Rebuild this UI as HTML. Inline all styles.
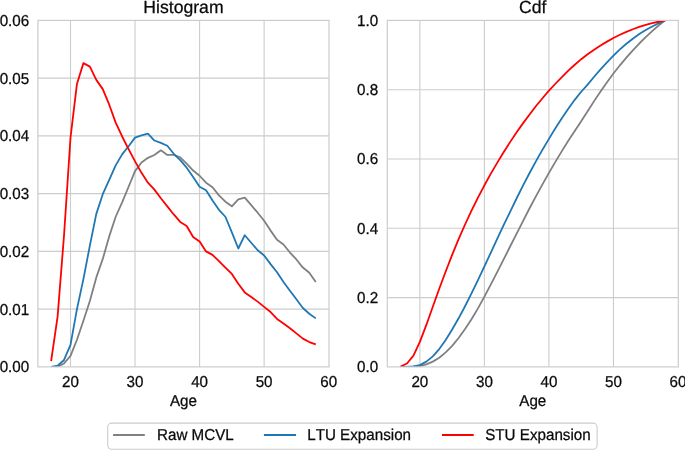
<!DOCTYPE html>
<html><head><meta charset="utf-8"><style>
html,body{margin:0;padding:0;background:#fff;width:685px;height:450px;overflow:hidden;}
body{position:relative;font-family:"Liberation Sans",sans-serif;}
svg text{font-kerning:none;text-rendering:geometricPrecision;}
svg{will-change:transform;}
</style></head><body>
<svg width="685" height="450" viewBox="0 0 685 450" style="position:absolute;left:0;top:0">
<rect width="685" height="450" fill="#fff"/>
<defs>
<clipPath id="c0"><rect x="37.9" y="20.4" width="291.1" height="346.5"/></clipPath>
<clipPath id="c1"><rect x="387.3" y="20.4" width="290.99999999999994" height="346.5"/></clipPath>
</defs>
<g font-family="Liberation Sans, sans-serif" fill="#0a0a0a" stroke="#0a0a0a" stroke-width="0.25">
<line x1="70.5" y1="20.4" x2="70.5" y2="366.9" stroke="#cccccc" stroke-width="1.1"/>
<line x1="135.04" y1="20.4" x2="135.04" y2="366.9" stroke="#cccccc" stroke-width="1.1"/>
<line x1="199.59" y1="20.4" x2="199.59" y2="366.9" stroke="#cccccc" stroke-width="1.1"/>
<line x1="264.13" y1="20.4" x2="264.13" y2="366.9" stroke="#cccccc" stroke-width="1.1"/>
<line x1="37.9" y1="309.15" x2="329.0" y2="309.15" stroke="#cccccc" stroke-width="1.1"/>
<line x1="37.9" y1="251.4" x2="329.0" y2="251.4" stroke="#cccccc" stroke-width="1.1"/>
<line x1="37.9" y1="193.65" x2="329.0" y2="193.65" stroke="#cccccc" stroke-width="1.1"/>
<line x1="37.9" y1="135.9" x2="329.0" y2="135.9" stroke="#cccccc" stroke-width="1.1"/>
<line x1="37.9" y1="78.15" x2="329.0" y2="78.15" stroke="#cccccc" stroke-width="1.1"/>
<g clip-path="url(#c0)">
<polyline points="51.13,366.90 57.59,366.90 64.04,363.44 70.50,355.93 76.95,339.76 83.40,320.70 89.86,301.06 96.31,277.39 102.77,258.91 109.22,236.38 115.68,216.75 122.13,202.31 128.59,186.72 135.04,171.13 141.50,162.46 147.95,157.84 154.40,154.96 160.86,150.34 167.31,154.96 173.77,154.96 180.22,157.27 186.68,163.62 193.13,170.55 199.59,175.75 206.04,182.68 212.50,187.30 218.95,195.38 225.40,201.73 231.86,206.35 238.31,199.42 244.77,197.69 251.22,205.20 257.68,212.71 264.13,220.79 270.59,230.61 277.04,239.85 283.50,244.47 289.95,252.55 296.40,259.48 302.86,267.57 309.31,272.77 315.77,282.01" fill="none" stroke="#808080" stroke-width="1.8" stroke-linejoin="round" stroke-linecap="butt"/>
<polyline points="51.13,366.90 57.59,365.75 64.04,359.97 70.50,344.95 76.95,309.15 83.40,279.12 89.86,245.62 96.31,213.86 102.77,194.23 109.22,179.79 115.68,165.35 122.13,154.38 128.59,146.29 135.04,137.63 141.50,135.32 147.95,133.59 154.40,140.52 160.86,142.83 167.31,145.72 173.77,153.80 180.22,160.15 186.68,167.66 193.13,176.90 199.59,186.72 206.04,190.18 212.50,200.58 218.95,209.82 225.40,216.75 231.86,232.34 238.31,248.51 244.77,235.23 251.22,242.74 257.68,250.24 264.13,255.44 270.59,264.10 277.04,272.19 283.50,282.01 289.95,290.67 296.40,299.33 302.86,308.00 309.31,313.77 315.77,318.39" fill="none" stroke="#1f77b4" stroke-width="1.8" stroke-linejoin="round" stroke-linecap="butt"/>
<polyline points="51.13,361.12 57.59,316.66 64.04,235.23 70.50,137.63 76.95,83.92 83.40,63.13 89.86,66.60 96.31,79.88 102.77,89.12 109.22,104.71 115.68,122.62 122.13,136.48 128.59,149.18 135.04,161.31 141.50,172.86 147.95,182.68 154.40,189.61 160.86,198.27 167.31,206.35 173.77,214.44 180.22,221.95 186.68,225.99 193.13,236.96 199.59,241.58 206.04,251.40 212.50,254.86 218.95,261.22 225.40,267.57 231.86,273.92 238.31,283.74 244.77,292.40 251.22,297.02 257.68,301.64 264.13,306.84 270.59,312.04 277.04,318.97 283.50,323.59 289.95,328.21 296.40,333.40 302.86,338.60 309.31,342.07 315.77,344.38" fill="none" stroke="#ff0000" stroke-width="1.8" stroke-linejoin="round" stroke-linecap="butt"/>
</g>
<rect x="37.9" y="20.4" width="291.1" height="346.5" fill="none" stroke="#cccccc" stroke-width="1.2"/>
<text transform="translate(29.20,372.35) scale(1,1.04)" text-anchor="end" font-size="15.2">0.00</text>
<text transform="translate(29.20,314.60) scale(1,1.04)" text-anchor="end" font-size="15.2">0.01</text>
<text transform="translate(29.20,256.85) scale(1,1.04)" text-anchor="end" font-size="15.2">0.02</text>
<text transform="translate(29.20,199.10) scale(1,1.04)" text-anchor="end" font-size="15.2">0.03</text>
<text transform="translate(29.20,141.35) scale(1,1.04)" text-anchor="end" font-size="15.2">0.04</text>
<text transform="translate(29.20,83.60) scale(1,1.04)" text-anchor="end" font-size="15.2">0.05</text>
<text transform="translate(29.20,25.85) scale(1,1.04)" text-anchor="end" font-size="15.2">0.06</text>
<text transform="translate(70.50,387.00) scale(1,1.04)" text-anchor="middle" font-size="15.2">20</text>
<text transform="translate(135.04,387.00) scale(1,1.04)" text-anchor="middle" font-size="15.2">30</text>
<text transform="translate(199.59,387.00) scale(1,1.04)" text-anchor="middle" font-size="15.2">40</text>
<text transform="translate(264.13,387.00) scale(1,1.04)" text-anchor="middle" font-size="15.2">50</text>
<text transform="translate(328.68,387.00) scale(1,1.04)" text-anchor="middle" font-size="15.2">60</text>
<text transform="translate(183.45,405.50) scale(1,1.04)" text-anchor="middle" font-size="15.2">Age</text>
<text transform="translate(183.45,12.80) scale(1,1.0)" text-anchor="middle" font-size="17.6">Histogram</text>
<line x1="419.88" y1="20.4" x2="419.88" y2="366.9" stroke="#cccccc" stroke-width="1.1"/>
<line x1="484.41" y1="20.4" x2="484.41" y2="366.9" stroke="#cccccc" stroke-width="1.1"/>
<line x1="548.93" y1="20.4" x2="548.93" y2="366.9" stroke="#cccccc" stroke-width="1.1"/>
<line x1="613.45" y1="20.4" x2="613.45" y2="366.9" stroke="#cccccc" stroke-width="1.1"/>
<line x1="387.3" y1="297.6" x2="678.3" y2="297.6" stroke="#cccccc" stroke-width="1.1"/>
<line x1="387.3" y1="228.3" x2="678.3" y2="228.3" stroke="#cccccc" stroke-width="1.1"/>
<line x1="387.3" y1="159.0" x2="678.3" y2="159.0" stroke="#cccccc" stroke-width="1.1"/>
<line x1="387.3" y1="89.7" x2="678.3" y2="89.7" stroke="#cccccc" stroke-width="1.1"/>
<g clip-path="url(#c1)">
<polyline points="400.53,366.90 406.98,366.90 413.43,366.69 419.88,366.04 426.34,364.41 432.79,361.64 439.24,357.70 445.69,352.34 452.15,345.87 458.60,338.05 465.05,329.05 471.50,319.19 477.96,308.40 484.41,296.67 490.86,284.43 497.31,271.90 503.76,259.21 510.22,246.23 516.67,233.54 523.12,220.84 529.57,208.28 536.03,196.11 542.48,184.34 548.93,172.89 555.38,161.86 561.84,151.10 568.29,140.82 574.74,130.93 581.19,121.31 587.64,111.28 594.10,101.14 600.55,91.46 607.00,82.22 613.45,73.47 619.91,65.30 626.36,57.69 632.81,50.36 639.26,43.51 645.72,37.07 652.17,31.12 658.62,25.49 665.07,20.40" fill="none" stroke="#808080" stroke-width="1.8" stroke-linejoin="round" stroke-linecap="butt"/>
<polyline points="400.53,366.90 406.98,366.83 413.43,366.41 419.88,365.10 426.34,361.63 432.79,356.36 439.24,349.08 445.69,339.90 452.15,329.54 458.60,318.31 465.05,306.21 471.50,293.45 477.96,280.21 484.41,266.45 490.86,252.56 497.31,238.55 503.76,224.97 510.22,211.52 516.67,198.24 523.12,185.45 529.57,173.04 536.03,161.09 542.48,149.68 548.93,138.87 555.38,128.26 561.84,118.28 568.29,108.85 574.74,99.84 581.19,91.77 587.64,84.66 594.10,76.76 600.55,69.31 607.00,62.30 613.45,55.61 619.91,49.45 626.36,43.76 632.81,38.67 639.26,34.09 645.72,30.04 652.17,26.50 658.62,23.31 665.07,20.40" fill="none" stroke="#1f77b4" stroke-width="1.8" stroke-linejoin="round" stroke-linecap="butt"/>
<polyline points="400.53,366.55 406.98,363.54 413.43,355.65 419.88,341.90 426.34,324.94 432.79,306.73 439.24,288.72 445.69,271.52 452.15,254.86 458.60,239.14 465.05,224.50 471.50,210.68 477.96,197.63 484.41,185.31 490.86,173.67 497.31,162.63 503.76,152.00 510.22,141.89 516.67,132.26 523.12,123.12 529.57,114.43 536.03,105.99 542.48,98.20 548.93,90.68 555.38,83.76 561.84,77.04 568.29,70.71 574.74,64.75 581.19,59.18 587.64,54.19 594.10,49.73 600.55,45.54 607.00,41.62 613.45,38.02 619.91,34.73 626.36,31.86 632.81,29.26 639.26,26.94 645.72,24.94 652.17,23.24 658.62,21.75 665.07,20.40" fill="none" stroke="#ff0000" stroke-width="1.8" stroke-linejoin="round" stroke-linecap="butt"/>
</g>
<rect x="387.3" y="20.4" width="290.99999999999994" height="346.5" fill="none" stroke="#cccccc" stroke-width="1.2"/>
<text transform="translate(378.20,372.35) scale(1,1.04)" text-anchor="end" font-size="15.2">0.0</text>
<text transform="translate(378.20,303.05) scale(1,1.04)" text-anchor="end" font-size="15.2">0.2</text>
<text transform="translate(378.20,233.75) scale(1,1.04)" text-anchor="end" font-size="15.2">0.4</text>
<text transform="translate(378.20,164.45) scale(1,1.04)" text-anchor="end" font-size="15.2">0.6</text>
<text transform="translate(378.20,95.15) scale(1,1.04)" text-anchor="end" font-size="15.2">0.8</text>
<text transform="translate(378.20,25.85) scale(1,1.04)" text-anchor="end" font-size="15.2">1.0</text>
<text transform="translate(419.88,387.00) scale(1,1.04)" text-anchor="middle" font-size="15.2">20</text>
<text transform="translate(484.41,387.00) scale(1,1.04)" text-anchor="middle" font-size="15.2">30</text>
<text transform="translate(548.93,387.00) scale(1,1.04)" text-anchor="middle" font-size="15.2">40</text>
<text transform="translate(613.45,387.00) scale(1,1.04)" text-anchor="middle" font-size="15.2">50</text>
<text transform="translate(677.98,387.00) scale(1,1.04)" text-anchor="middle" font-size="15.2">60</text>
<text transform="translate(532.80,405.50) scale(1,1.04)" text-anchor="middle" font-size="15.2">Age</text>
<text transform="translate(532.80,12.80) scale(1,1.0)" text-anchor="middle" font-size="17.6">Cdf</text>
</g>
<rect x="107.7" y="423.1" width="489.4" height="26.2" rx="4" ry="4" fill="#fff" stroke="#cccccc" stroke-width="1.1"/>
<g font-family="Liberation Sans, sans-serif" fill="#0a0a0a" stroke="#0a0a0a" stroke-width="0.25">
<line x1="113.1" y1="435" x2="144.8" y2="435" stroke="#808080" stroke-width="2"/>
<text transform="translate(157.00,440.00) scale(1,1.04)" text-anchor="start" font-size="15.2">Raw MCVL</text>
<line x1="263.9" y1="435" x2="296" y2="435" stroke="#1f77b4" stroke-width="2"/>
<text transform="translate(307.20,440.00) scale(1,1.04)" text-anchor="start" font-size="15.2">LTU Expansion</text>
<line x1="442" y1="435" x2="473.7" y2="435" stroke="#ff0000" stroke-width="2"/>
<text transform="translate(485.20,440.00) scale(1,1.04)" text-anchor="start" font-size="15.2">STU Expansion</text>
</g></svg>
</body></html>
